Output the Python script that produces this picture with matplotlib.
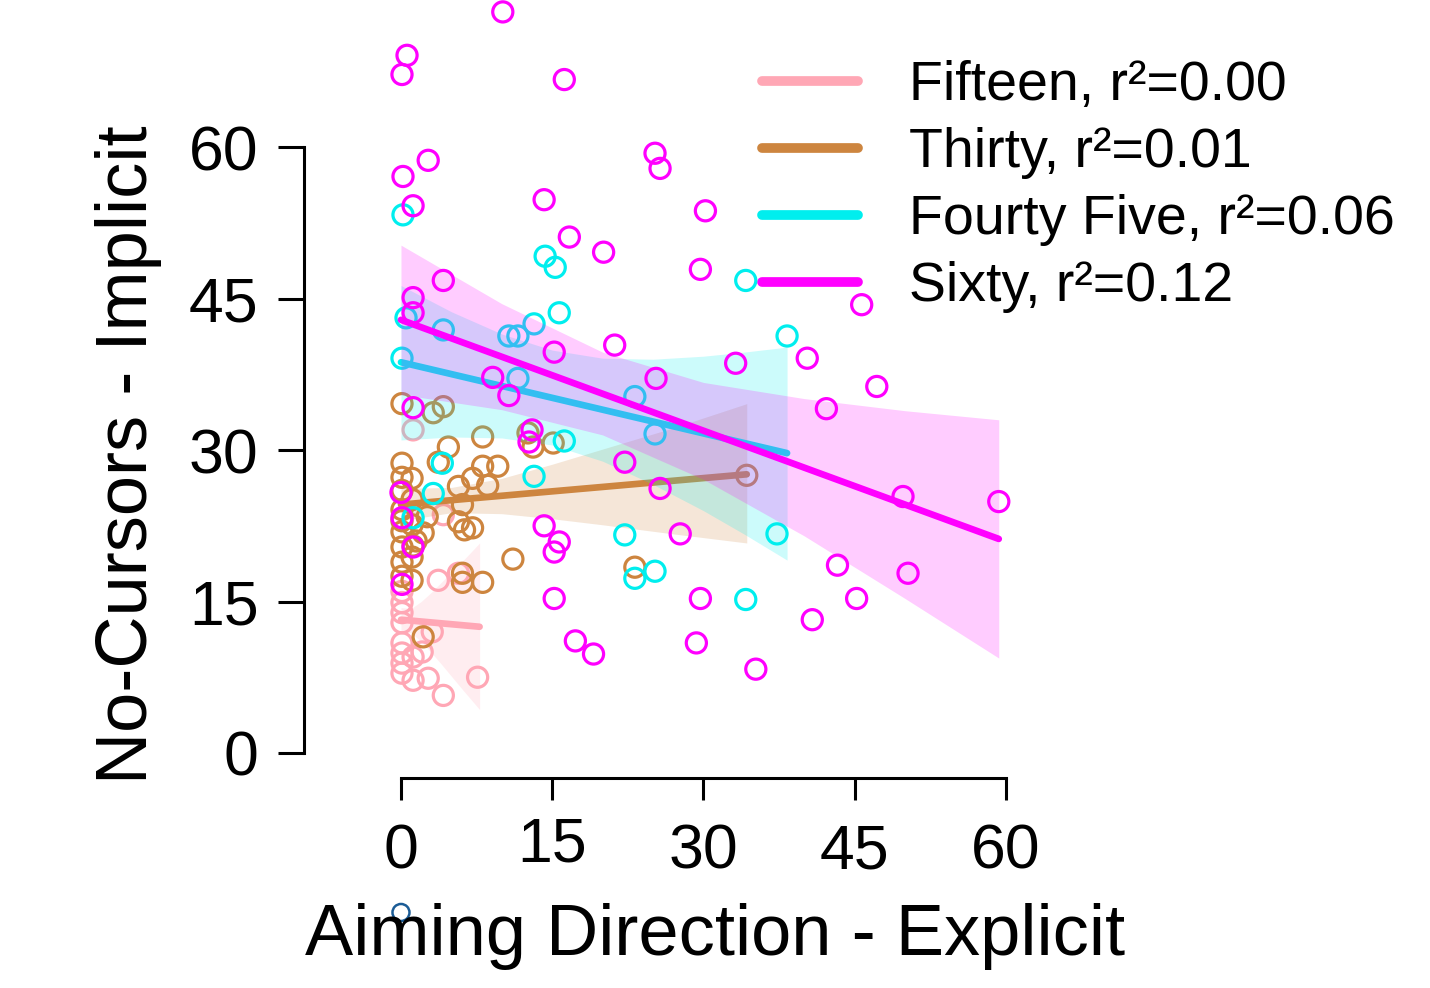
import numpy as np
import matplotlib
matplotlib.use('Agg')
import matplotlib.pyplot as plt
from matplotlib.lines import Line2D

plt.rcParams['font.family'] = ['Liberation Sans', 'DejaVu Sans']

# groups / colours
names = ['Fifteen', 'Thirty', 'Fourty Five', 'Sixty']
r2 = ['0.00', '0.01', '0.06', '0.12']
colors = ['#FFA7B5', '#CD853F', '#00EEEE', '#FF00FF']

# explicit (x) and implicit (y) per group
fifteen_x = [0.1, 0.1, 0.1, 0.1, 0.1, 0.1, 1.2, 0.1, 1.2, 2.7, 2.1, 3.1, 4.2, 7.6, 3.7, 5.7, 4.2, 1.2, 0.1]
fifteen_y = [14.9, 13.9, 12.9, 10.9, 9.9, 8.9, 9.5, 7.9, 7.2, 7.4, 10.0, 12.0, 5.7, 7.5, 17.1, 17.8, 23.6, 32.0, 16.0]

thirty_x = [0.1, 3.2, 4.2, 8.1, 4.7, 3.7, 12.6, 13.1, 15.1, 0.1, 1.1, 8.1, 9.6, 7.1, 5.7,
            8.6, 0.1, 0.1, 0.1, 2.6, 6.1, 5.7, 6.3, 7.1, 2.2, 0.1, 0.1, 1.1, 0.1, 1.1,
            6.1, 6.1, 8.1, 11.1, 2.2, 34.3, 23.2, 1.1, 1.1, 0.1, 1.2, 0.1, 1.5]
thirty_y = [34.6, 33.7, 34.3, 31.3, 30.3, 28.8, 31.7, 30.3, 30.7, 28.7, 27.2, 28.4, 28.4, 27.2, 26.4,
            26.5, 27.3, 26.0, 24.1, 23.4, 24.6, 22.9, 22.1, 22.3, 21.8, 21.9, 20.4, 19.4, 18.9, 17.1,
            17.8, 16.9, 16.9, 19.2, 11.5, 27.5, 18.4, 25.1, 22.6, 23.0, 20.5, 17.5, 21.0]

fortyfive_x = [0.2, 0.5, 0.1, 4.2, 10.7, 11.6, 13.2, 11.6, 14.3, 15.3, 15.7, 34.2, 38.3, 23.2, 25.2,
               16.2, 13.2, 3.2, 1.2, 4.1, 22.2, 23.2, 25.2, 34.2, 37.3]
fortyfive_y = [53.3, 43.1, 39.1, 41.9, 41.3, 41.3, 42.5, 37.1, 49.2, 48.1, 43.6, 46.8, 41.3, 35.3, 31.6,
               30.9, 27.4, 25.7, 23.3, 28.7, 21.6, 17.3, 18.0, 15.2, 21.7]

sixty_x = [10.1, 0.6, 0.1, 16.2, 2.7, 25.2, 25.7, 0.2, 1.2, 14.2, 30.2, 16.7, 20.1, 29.7, 4.2, 45.7,
           1.2, 1.2, 21.2, 40.3, 33.2, 9.1, 25.3, 47.2, 10.7, 15.2, 42.2, 1.2, 13.0, 12.7, 22.2, 25.7,
           0.0, 0.1, 1.2, 0.1, 14.2, 15.7, 15.2, 27.7, 15.2, 17.3, 19.1, 29.7, 29.3, 35.2, 43.3, 45.2,
           40.8, 50.3, 49.8, 59.3]
sixty_y = [73.4, 69.1, 67.2, 66.7, 58.7, 59.4, 57.9, 57.1, 54.2, 54.8, 53.7, 51.1, 49.6, 47.9, 46.8, 44.4,
           45.1, 43.6, 40.4, 39.1, 38.6, 37.2, 37.1, 36.3, 35.4, 39.7, 34.1, 34.2, 32.0, 30.8, 28.8, 26.2,
           25.8, 23.3, 20.4, 16.7, 22.5, 20.9, 19.9, 21.7, 15.3, 11.1, 9.8, 15.3, 10.9, 8.3, 18.6, 15.3,
           13.2, 17.8, 25.4, 24.9]

# fitted lines (ends) and confidence bands
fifteen_fit_x, fifteen_fit_y = [0, 7.8], [13.2, 12.5]
fifteen_band_x = [0, 1, 2, 3, 4, 5, 6, 7.8]
fifteen_lo = [12.0, 11.9, 11.05, 9.95, 8.8, 7.6, 6.4, 4.3]
fifteen_hi = [14.4, 14.3, 15.0, 15.9, 16.9, 17.9, 18.9, 20.8]

thirty_fit_x, thirty_fit_y = [0, 34.3], [24.6, 27.6]
thirty_band_x = [0, 5, 10, 15, 20, 27, 34.3]
thirty_lo = [23.0, 23.8, 23.7, 23.2, 22.6, 21.7, 20.8]
thirty_hi = [26.2, 26.3, 27.2, 28.6, 30.1, 32.2, 34.6]

fortyfive_fit_x, fortyfive_fit_y = [0, 38.3], [38.7, 29.7]
fortyfive_band_x = [0, 5, 10, 15, 20, 25, 30, 34, 38.3]
fortyfive_lo = [31.0, 31.3, 31.2, 30.5, 28.9, 26.6, 24.0, 21.7, 19.1]
fortyfive_hi = [46.3, 43.7, 41.5, 39.9, 39.1, 39.0, 39.3, 39.7, 40.2]

sixty_fit_x, sixty_fit_y = [0, 59.3], [42.9, 21.2]
sixty_band_x = [0, 10, 20, 30, 40, 50, 59.3]
sixty_lo = [35.5, 34.0, 31.5, 27.1, 21.5, 15.3, 9.4]
sixty_hi = [50.3, 44.5, 39.7, 36.7, 35.1, 33.9, 33.0]

stray_x, stray_y = [0.0], [-15.8]

ticks = [0, 15, 30, 45, 60]

groups = [
    (fifteen_x, fifteen_y, fifteen_fit_x, fifteen_fit_y, fifteen_band_x, fifteen_lo, fifteen_hi),
    (thirty_x, thirty_y, thirty_fit_x, thirty_fit_y, thirty_band_x, thirty_lo, thirty_hi),
    (fortyfive_x, fortyfive_y, fortyfive_fit_x, fortyfive_fit_y, fortyfive_band_x, fortyfive_lo, fortyfive_hi),
    (sixty_x, sixty_y, sixty_fit_x, sixty_fit_y, sixty_band_x, sixty_lo, sixty_hi),
]

fig = plt.figure(figsize=(14.3, 9.88), dpi=100)
ax = fig.add_axes([304 / 1430, 210 / 988, 722 / 1430, 651 / 988])
ax.set_xlim(-9.62, 62.0)
ax.set_ylim(-2.48, 62.0)

for i, (gx, gy, fx, fy, bx, lo, hi) in enumerate(groups):
    col = colors[i]
    z = 2 + 3 * i
    ax.fill_between(bx, lo, hi, color=col, alpha=0.2, lw=0, zorder=z)
    ax.scatter(gx, gy, s=210, facecolors='none', edgecolors=col, linewidths=2.3,
               zorder=z + 1, clip_on=False)
    ax.plot(fx, fy, color=col, lw=4.8, solid_capstyle='round', zorder=z + 2)

ax.scatter(stray_x, stray_y, s=150, facecolors='none', edgecolors='#1B5C96',
           linewidths=1.8, zorder=20, clip_on=False)

# R-style axes
for s in ['top', 'right']:
    ax.spines[s].set_visible(False)
for s in ['left', 'bottom']:
    ax.spines[s].set_linewidth(2.2)
    ax.spines[s].set_bounds(0, 60)
ax.set_yticks(ticks)
ax.set_xticks(ticks)
ax.set_xticklabels([])
ax.tick_params(axis='y', length=18.7, width=2.2, labelsize=45, pad=14)
ax.tick_params(axis='x', length=15.8, width=2.2)
for v in ticks:
    off = -60 if v == 15 else -65
    ax.annotate(str(v), xy=(v, 0), xycoords=('data', 'axes fraction'),
                xytext=(0, off), textcoords='offset points',
                ha='center', va='baseline', fontsize=45)

fig.text(715 / 1430, 1 - 955 / 988, 'Aiming Direction - Explicit',
         ha='center', va='baseline', fontsize=52)
fig.text(147 / 1430, 1 - 455 / 988, 'No-Cursors - Implicit', rotation=90,
         rotation_mode='anchor', ha='center', va='baseline', fontsize=52)

handles = [Line2D([], [], color=c, lw=7, solid_capstyle='round') for c in colors]
labels = [f'{n}, r\u00b2={v}' for n, v in zip(names, r2)]
ax.legend(handles, labels, loc='upper left', bbox_to_anchor=(762 / 1430, 1 - 60 / 988),
          bbox_transform=fig.transFigure, frameon=False, fontsize=40,
          handlelength=1.72, handletextpad=0.92, labelspacing=0.27,
          borderpad=0, borderaxespad=0)

fig.savefig('out.png', dpi=100)
